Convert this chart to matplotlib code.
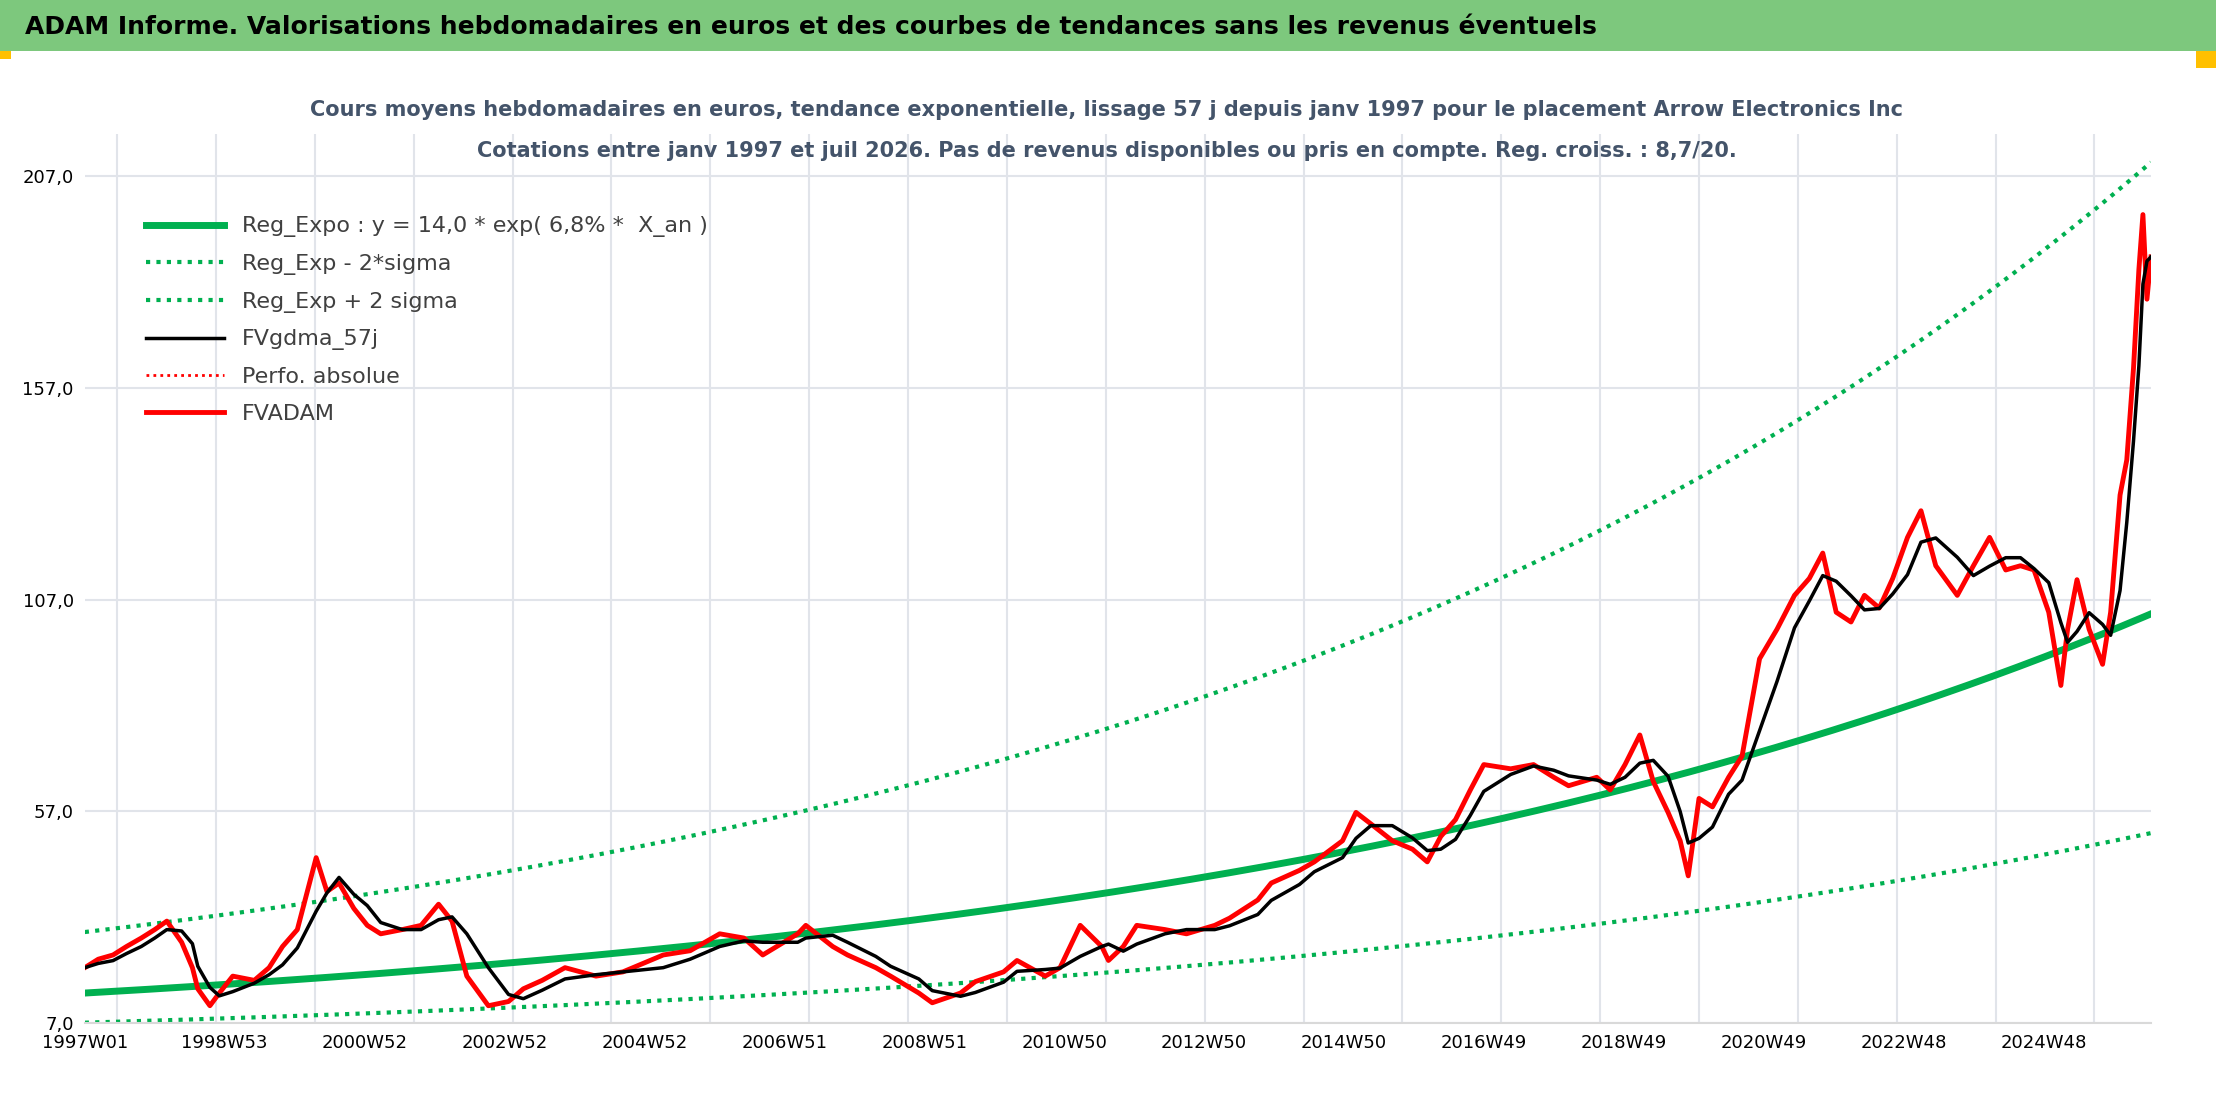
import matplotlib
matplotlib.use("Agg")
import matplotlib.pyplot as plt
import numpy as np
import pandas as pd

plt.rcParams["font.family"] = ["DejaVu Sans"]

# weekly axis: tick labels every 104 weeks
tick_labels = ["1997W01", "1998W53", "2000W52", "2002W52", "2004W52", "2006W51", "2008W51",
               "2010W50", "2012W50", "2014W50", "2016W49", "2018W49", "2020W49", "2022W48", "2024W48"]
n_weeks = 1536

reg_a = 14.0
reg_rate = 0.068
upper_factor = 2.03
lower_factor = 0.5

# price anchors (week index, value in euros)
price_points = [
    (0, 20), (10, 22), (21, 23), (31, 25), (42, 27), (52, 29), (61, 31), (72, 26), (80, 20),
    (84, 15), (93, 11), (100, 14), (110, 18), (126, 17), (137, 20), (147, 25), (158, 29),
    (172, 46), (180, 38), (189, 40), (200, 34), (210, 30), (220, 28), (236, 29), (250, 30),
    (263, 35), (273, 31), (284, 18), (300, 11), (315, 12), (326, 15), (340, 17), (357, 20),
    (380, 18), (400, 19), (430, 23), (450, 24), (472, 28), (490, 27), (504, 23), (530, 28),
    (536, 30), (556, 25), (567, 23), (588, 20), (599, 18), (620, 14), (630, 11.7), (651, 14),
    (662, 16.7), (683, 19), (693, 21.7), (714, 18), (725, 20), (740, 30), (756, 25),
    (761, 21.7), (772, 25), (782, 30), (803, 29), (819, 28), (840, 30), (851, 31.7), (872, 36),
    (882, 40), (903, 43), (914, 45), (935, 50), (945, 56.7), (956, 54), (972, 50), (987, 48),
    (998, 45), (1008, 51), (1019, 55), (1030, 62), (1040, 68), (1060, 67), (1077, 68),
    (1092, 65), (1103, 63), (1124, 65), (1134, 62), (1145, 68), (1156, 75), (1166, 64),
    (1177, 56.7), (1186, 50), (1192, 41.7), (1200, 60), (1210, 58), (1222, 65), (1232, 70),
    (1245, 93), (1258, 100), (1271, 108), (1282, 112), (1292, 118), (1302, 104), (1313, 101.7),
    (1323, 108), (1334, 105), (1344, 112), (1355, 121.7), (1365, 128), (1376, 115), (1392, 108),
    (1404, 115), (1416, 121.7), (1428, 114), (1439, 115), (1449, 114), (1460, 104),
    (1469, 86.7), (1474, 100), (1481, 111.7), (1490, 100), (1500, 91.7), (1506, 104),
    (1513, 131.7), (1518, 140), (1523, 161.7), (1527, 185), (1530, 198), (1533, 178),
    (1536, 188),
]
price_weeks = [p[0] for p in price_points]
price_vals = [p[1] for p in price_points]

x = np.arange(n_weeks + 1)
t = x / 52.18
reg = reg_a * np.exp(reg_rate * t)

fv = pd.Series(price_vals, index=price_weeks, dtype=float)
smooth = fv.rolling(3, min_periods=1).mean()

W, H = 1568, 783  # layout measured on a reduced view of the reference
fig = plt.figure(figsize=(22.16, 11.06), dpi=100)
fig.patch.set_facecolor("white")
# header band
fig.patches.append(plt.Rectangle((0, 1 - 36 / H), 1, 36 / H, transform=fig.transFigure,
                                 facecolor="#7DC87D", edgecolor="none"))
fig.patches.append(plt.Rectangle((0, 1 - 42 / H), 8 / W, 6 / H, transform=fig.transFigure,
                                 facecolor="#FFC000", edgecolor="none"))
fig.patches.append(plt.Rectangle((1 - 14 / W, 1 - 48 / H), 14 / W, 12 / H, transform=fig.transFigure,
                                 facecolor="#FFC000", edgecolor="none"))
fig.text(18 / W, 1 - 19 / H, "ADAM Informe. Valorisations hebdomadaires en euros et des courbes de tendances sans les revenus éventuels",
         fontsize=18, fontweight="bold", va="center", ha="left")
fig.text(783 / W, 1 - 78 / H, "Cours moyens hebdomadaires en euros, tendance exponentielle, lissage 57 j depuis janv 1997 pour le placement Arrow Electronics Inc",
         fontsize=15, fontweight="bold", color="#44546A", ha="center", va="center")
fig.text(783 / W, 1 - 107 / H, "Cotations entre janv 1997 et juil 2026. Pas de revenus disponibles ou pris en compte. Reg. croiss. : 8,7/20.",
         fontsize=15, fontweight="bold", color="#44546A", ha="center", va="center")

ax = fig.add_axes([60 / W, 1 - 724 / H, (1522 - 60) / W, (724 - 95) / H])

ax.plot(x, reg, color="#00B050", lw=5, label="Reg_Expo : y = 14,0 * exp( 6,8% *  X_an )")
ax.plot(x, reg * lower_factor, color="#00B050", lw=3, ls=(0, (1, 1.5)), label="Reg_Exp - 2*sigma")
ax.plot(x, reg * upper_factor, color="#00B050", lw=3, ls=(0, (1, 1.5)), label="Reg_Exp + 2 sigma")
ax.plot(smooth.index, smooth.values, color="black", lw=2.5, label="FVgdma_57j", zorder=5)
ax.plot([], [], color="red", lw=2, ls=(0, (1, 1.5)), label="Perfo. absolue")
ax.plot(fv.index, fv.values, color="#FF0000", lw=3.5, label="FVADAM", zorder=4)

ax.set_xlim(0, n_weeks)
ax.set_ylim(7, 217)
ax.set_yticks([7, 57, 107, 157, 207])
ax.set_yticklabels(["7,0", "57,0", "107,0", "157,0", "207,0"], fontsize=13)
ax.set_xticks(np.arange(len(tick_labels)) * 104)
ax.set_xticklabels(tick_labels, fontsize=13)
ax.tick_params(length=0, pad=8)
ax.set_xticks(np.arange(24, n_weeks, 73.5), minor=True)
ax.tick_params(which="minor", length=0)
ax.grid(True, which="minor", axis="x", color="#E1E4EA", lw=1.5)
ax.grid(True, which="major", axis="y", color="#E1E4EA", lw=1.5)
ax.set_axisbelow(True)
for s in ["top", "right", "left"]:
    ax.spines[s].set_visible(False)
ax.spines["bottom"].set_color("#D9D9D9")
ax.spines["bottom"].set_linewidth(1.5)

leg = ax.legend(loc="upper left", bbox_to_anchor=(0.02, 0.93), frameon=False, fontsize=16,
                handlelength=3.5, labelspacing=0.75)
for txt in leg.get_texts():
    txt.set_color("#404040")

fig.savefig("out.png", dpi=100)
